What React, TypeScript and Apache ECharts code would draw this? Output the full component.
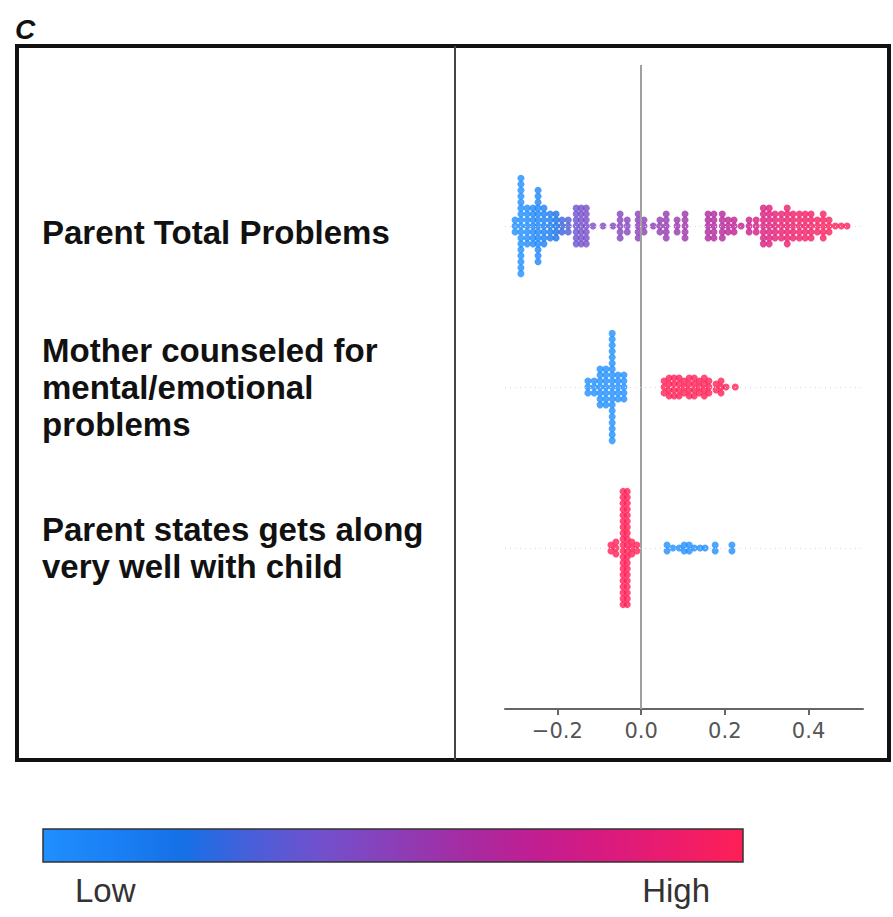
import React, { useEffect, useRef } from "react";
import * as echarts from "echarts";

// Feature names, top row first
const FEATURES: string[] = [
  "Parent Total Problems",
  "Mother counseled for\nmental/emotional\nproblems",
  "Parent states gets along\nvery well with child",
];
const X_TICKS: number[] = [-0.2, 0, 0.2, 0.4];
const COLOR_STOPS: string[] = [
  "#1f8fff", "#1a80f5", "#1670e6", "#4a5ed9", "#7350cc", "#8a3fb8",
  "#a52ca3", "#c01e92", "#d81a80", "#ec1c6c", "#ff1f56",
];

// Each entry: [SHAP value, dots stacked at that value, feature value (0 = Low, 1 = High)]
const PARENT_TOTAL: [number, number, number][] = [
  [-0.301, 3, 0.0], [-0.287, 17, 0.0], [-0.272, 7, 0.02], [-0.258, 7, 0.05],
  [-0.246, 13, 0.06], [-0.232, 7, 0.1], [-0.217, 5, 0.14], [-0.203, 5, 0.2],
  [-0.189, 3, 0.26], [-0.174, 3, 0.32], [-0.155, 7, 0.38], [-0.143, 7, 0.4],
  [-0.131, 7, 0.42], [-0.115, 1, 0.44], [-0.091, 1, 0.45], [-0.067, 1, 0.46],
  [-0.05, 5, 0.47], [-0.033, 3, 0.48], [-0.007, 5, 0.5], [0.007, 3, 0.51],
  [0.029, 1, 0.52], [0.045, 3, 0.53], [0.06, 5, 0.54], [0.086, 3, 0.56],
  [0.105, 5, 0.57], [0.16, 5, 0.63], [0.174, 5, 0.64], [0.194, 5, 0.66],
  [0.208, 3, 0.68], [0.222, 3, 0.7], [0.239, 1, 0.72], [0.258, 3, 0.74],
  [0.275, 3, 0.77], [0.292, 7, 0.8], [0.306, 7, 0.83], [0.32, 5, 0.86],
  [0.335, 5, 0.88], [0.349, 7, 0.9], [0.363, 5, 0.91], [0.378, 5, 0.92],
  [0.392, 5, 0.93], [0.406, 5, 0.94], [0.421, 3, 0.95], [0.435, 5, 0.96],
  [0.449, 3, 0.97], [0.464, 1, 0.98], [0.478, 1, 0.99], [0.492, 1, 1.0],
];
const MOTHER_COUNSELED: [number, number, number][] = [
  [-0.127, 3, 0], [-0.112, 3, 0], [-0.098, 7, 0], [-0.084, 7, 0],
  [-0.069, 19, 0], [-0.055, 5, 0], [-0.041, 5, 0],
  [0.055, 3, 1], [0.067, 4, 1], [0.079, 4, 1], [0.091, 4, 1], [0.103, 3, 1],
  [0.115, 4, 1], [0.127, 4, 1], [0.139, 3, 1], [0.151, 4, 1], [0.162, 3, 1],
  [0.179, 2, 1], [0.191, 3, 1], [0.203, 1, 1], [0.225, 1, 1],
];
const GETS_ALONG: [number, number, number][] = [
  [-0.072, 2, 1], [-0.06, 3, 1], [-0.043, 20, 1], [-0.033, 20, 1],
  [-0.022, 3, 1], [-0.01, 2, 1],
  [0.062, 2, 0], [0.076, 1, 0], [0.091, 1, 0], [0.103, 2, 0], [0.115, 2, 0],
  [0.127, 1, 0], [0.141, 1, 0], [0.153, 1, 0], [0.177, 2, 0], [0.217, 2, 0],
];

const DOT_STEP = 0.037; // vertical spacing of stacked dots, in row units

function swarm(cols: [number, number, number][], row: number): number[][] {
  const pts: number[][] = [];
  for (const [x, n, f] of cols) {
    for (let k = 0; k < n; k++) pts.push([x, row + (k - (n - 1) / 2) * DOT_STEP, f]);
  }
  return pts;
}

export default function App() {
  const ref = useRef<HTMLDivElement>(null);
  useEffect(() => {
    if (!ref.current) return;
    const chart = echarts.init(ref.current, undefined, { renderer: "svg" });
    const rowOf = (i: number) => FEATURES.length - 1 - i;
    const dotted = { color: "#d8d8d8", width: 1, type: [1, 4] as any };
    const labelFont = {
      color: "#111",
      fontFamily: "Liberation Sans",
      fontWeight: "bold",
      fontSize: 33,
      lineHeight: 37,
    };
    const option: any = {
      animation: false,
      backgroundColor: "#ffffff",
      grid: { left: 505, right: 30, top: 65, bottom: 208, outerBoundsMode: "none", containLabel: false },
      xAxis: {
        type: "value",
        min: -0.325,
        max: 0.53,
        axisLine: { show: true, onZero: false, lineStyle: { color: "#666", width: 2 } },
        axisTick: { show: true, length: 6, lineStyle: { color: "#666", width: 2 }, customValues: X_TICKS },
        axisLabel: {
          customValues: X_TICKS,
          margin: 11,
          color: "#555",
          fontFamily: "DejaVu Sans",
          fontSize: 21,
          formatter: (v: number) => (v < 0 ? "\u2212" : "") + Math.abs(v).toFixed(1),
        },
        splitLine: { show: false },
      },
      yAxis: {
        type: "value",
        min: -1,
        max: 3,
        interval: 1,
        axisLine: { show: false },
        axisTick: { show: false },
        splitLine: { show: false },
        axisLabel: {
          align: "left",
          margin: 463,
          ...labelFont,
          rich: { top: { ...labelFont, padding: [12, 0, 0, 0] } },
          formatter: (v: number) => {
            const i = FEATURES.length - 1 - v;
            if (!(v >= 0 && v < FEATURES.length)) return "";
            return i === 0 ? `{top|${FEATURES[i]}}` : FEATURES[i];
          },
        },
      },
      visualMap: {
        type: "continuous",
        show: false,
        min: 0,
        max: 1,
        dimension: 2,
        seriesIndex: [1, 2, 3],
        inRange: { color: COLOR_STOPS },
      },
      series: [
        {
          type: "scatter",
          data: [],
          z: 1,
          silent: true,
          markLine: {
            silent: true,
            symbol: ["none", "none"],
            label: { show: false },
            data: [
              { xAxis: 0, lineStyle: { color: "#a0a0a0", width: 2, type: "solid" } },
              ...FEATURES.map((_, i) => ({ yAxis: rowOf(i), lineStyle: dotted })),
            ],
          },
        },
        { name: FEATURES[0], type: "scatter", z: 3, symbolSize: 7, data: swarm(PARENT_TOTAL, rowOf(0)) },
        { name: FEATURES[1], type: "scatter", z: 3, symbolSize: 7, data: swarm(MOTHER_COUNSELED, rowOf(1)) },
        { name: FEATURES[2], type: "scatter", z: 3, symbolSize: 7, data: swarm(GETS_ALONG, rowOf(2)) },
      ],
      graphic: [
        {
          type: "text",
          left: 15,
          top: 15,
          style: { text: "C", fontSize: 28, fontWeight: "bold", fontStyle: "italic", fontFamily: "Liberation Sans", fill: "#111" },
        },
        {
          type: "rect",
          shape: { x: 17, y: 46, width: 872, height: 714 },
          style: { fill: "none", stroke: "#111", lineWidth: 4 },
          z: 10,
        },
        {
          type: "line",
          shape: { x1: 455, y1: 46, x2: 455, y2: 760 },
          style: { stroke: "#444", lineWidth: 2 },
          z: 10,
        },
        {
          type: "rect",
          shape: { x: 43, y: 829, width: 700, height: 33 },
          style: {
            fill: new echarts.graphic.LinearGradient(
              0, 0, 1, 0,
              COLOR_STOPS.map((c, i) => ({ offset: i / (COLOR_STOPS.length - 1), color: c }))
            ),
            stroke: "#333",
            lineWidth: 1.5,
          },
        },
        {
          type: "text",
          x: 75,
          y: 890,
          style: { text: "Low", fontSize: 33, fontFamily: "Liberation Sans", fill: "#333", textAlign: "left", textVerticalAlign: "middle" },
        },
        {
          type: "text",
          x: 710,
          y: 890,
          style: { text: "High", fontSize: 33, fontFamily: "Liberation Sans", fill: "#333", textAlign: "right", textVerticalAlign: "middle" },
        },
      ],
    };
    chart.setOption(option);
    return () => chart.dispose();
  }, []);
  return (
    <div
      ref={ref}
      style={{ position: "absolute", left: 0, top: 0, width: 893, height: 917, background: "#fff" }}
    />
  );
}
